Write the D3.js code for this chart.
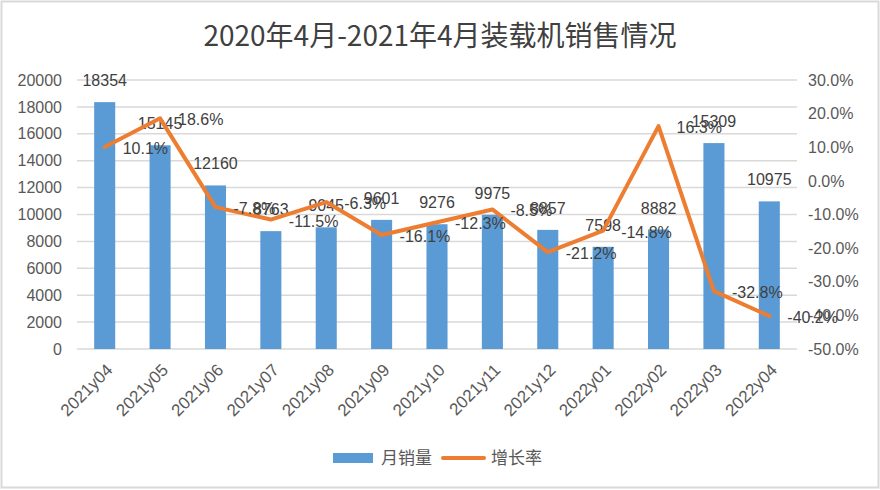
<!DOCTYPE html>
<html><head><meta charset="utf-8">
<script src="https://cdn.jsdelivr.net/npm/d3@7"></script>
<style>
html,body{margin:0;padding:0;background:#fff;}
svg{display:block;}
</style></head>
<body>
<svg id="chart" width="880" height="490"></svg>
<script>
const title = "2020年4月-2021年4月装载机销售情况";
const categories = ["2021y04","2021y05","2021y06","2021y07","2021y08","2021y09","2021y10","2021y11","2021y12","2022y01","2022y02","2022y03","2022y04"];
const sales = [18354,15145,12160,8763,9045,9601,9276,9975,8857,7598,8882,15309,10975];
const growth = [10.1,18.6,-7.8,-11.5,-6.3,-16.1,-12.3,-8.5,-21.2,-14.8,16.3,-32.8,-40.2];
const leftTicks = [0,2000,4000,6000,8000,10000,12000,14000,16000,18000,20000];
const rightTicks = [-50,-40,-30,-20,-10,0,10,20,30];
const seriesNames = ["月销量","增长率"];

const svg = d3.select("#chart");
const W = 880, H = 490;
const m = {left:77, right:83, top:80, bottom:141};
const x0 = m.left, x1 = W - m.right, y0 = H - m.bottom, y1 = m.top;
const numFont = "'Liberation Sans', Arial, sans-serif";
const cjkFont = "'Noto Sans CJK SC', sans-serif";
const blue = "#5B9BD5", orange = "#ED7D31", grid = "#d9d9d9", axisText = "#595959", labText = "#404040";

// border
svg.append("rect").attr("x",1.5).attr("y",1.5).attr("width",W-3).attr("height",H-4)
  .attr("fill","#fff").attr("stroke","#d9d9d9").attr("stroke-width",2);

const x = d3.scaleBand().domain(categories).range([x0,x1]).paddingInner(0.62).paddingOuter(0.31);
const xc = d => x(d) + x.bandwidth()/2;
const yL = d3.scaleLinear().domain([0,20000]).range([y0,y1]);
const yR = d3.scaleLinear().domain([-50,30]).range([y0,y1]);

// title
svg.append("text").attr("x",440).attr("y",46).attr("text-anchor","middle")
  .attr("font-family",cjkFont).attr("font-size",28).attr("fill","#404040").text(title);

// grid
svg.append("g").selectAll("line").data(leftTicks).join("line")
  .attr("x1",x0).attr("x2",x1).attr("y1",d=>yL(d)).attr("y2",d=>yL(d))
  .attr("stroke",grid).attr("stroke-width",1.5);

// left axis
const axL = d3.axisLeft(yL).tickValues(leftTicks).tickSize(0).tickPadding(15).tickFormat(d3.format("d"));
const gL = svg.append("g").attr("transform",`translate(${x0},0)`).call(axL);
gL.select(".domain").remove();
gL.selectAll("text").attr("font-family",numFont).attr("font-size",16).attr("fill",axisText);

// right axis
const axR = d3.axisRight(yR).tickValues(rightTicks).tickSize(0).tickPadding(11).tickFormat(d=>d.toFixed(1)+"%");
const gR = svg.append("g").attr("transform",`translate(${x1},0)`).call(axR);
gR.select(".domain").remove();
gR.selectAll("text").attr("font-family",numFont).attr("font-size",16).attr("fill",axisText);

// x axis labels
const axX = d3.axisBottom(x).tickSize(0).tickPadding(0);
const gX = svg.append("g").attr("transform",`translate(0,${y0})`).call(axX);
gX.select(".domain").remove();
gX.selectAll("text").attr("font-family",numFont).attr("font-size",17).attr("fill",axisText)
  .attr("text-anchor","end").attr("dy",null).attr("y",0)
  .attr("transform","translate(9,22) rotate(-45)");

// bars
svg.append("g").selectAll("rect").data(categories).join("rect")
  .attr("x",d=>x(d)).attr("width",x.bandwidth())
  .attr("y",(d,i)=>yL(sales[i])).attr("height",(d,i)=>yL(0)-yL(sales[i]))
  .attr("fill",blue);

// bar labels
svg.append("g").selectAll("text").data(categories).join("text")
  .attr("x",d=>xc(d)).attr("y",(d,i)=>yL(sales[i]) - 16)
  .attr("text-anchor","middle").attr("font-family",numFont).attr("font-size",16).attr("fill",labText)
  .text((d,i)=>sales[i]);

// line
const line = d3.line().x((d,i)=>xc(categories[i])).y(d=>yR(d));
svg.append("path").datum(growth).attr("d",line).attr("fill","none")
  .attr("stroke",orange).attr("stroke-width",4).attr("stroke-linejoin","round").attr("stroke-linecap","round");

// line labels
svg.append("g").selectAll("text").data(growth).join("text")
  .attr("x",(d,i)=>xc(categories[i]) + 18).attr("y",d=>yR(d)+7)
  .attr("font-family",numFont).attr("font-size",16).attr("fill",labText)
  .text(d=>d.toFixed(1)+"%");

// legend
const lg = svg.append("g").attr("transform","translate(0,458)");
lg.append("rect").attr("x",333).attr("y",-5).attr("width",40).attr("height",10).attr("fill",blue);
lg.append("text").attr("x",381).attr("y",6).attr("font-family",cjkFont).attr("font-size",17).attr("fill",axisText).text(seriesNames[0]);
lg.append("line").attr("x1",443).attr("x2",484).attr("y1",0).attr("y2",0).attr("stroke",orange).attr("stroke-width",4).attr("stroke-linecap","round");
lg.append("text").attr("x",491).attr("y",6).attr("font-family",cjkFont).attr("font-size",17).attr("fill",axisText).text(seriesNames[1]);
</script>
</body></html>
